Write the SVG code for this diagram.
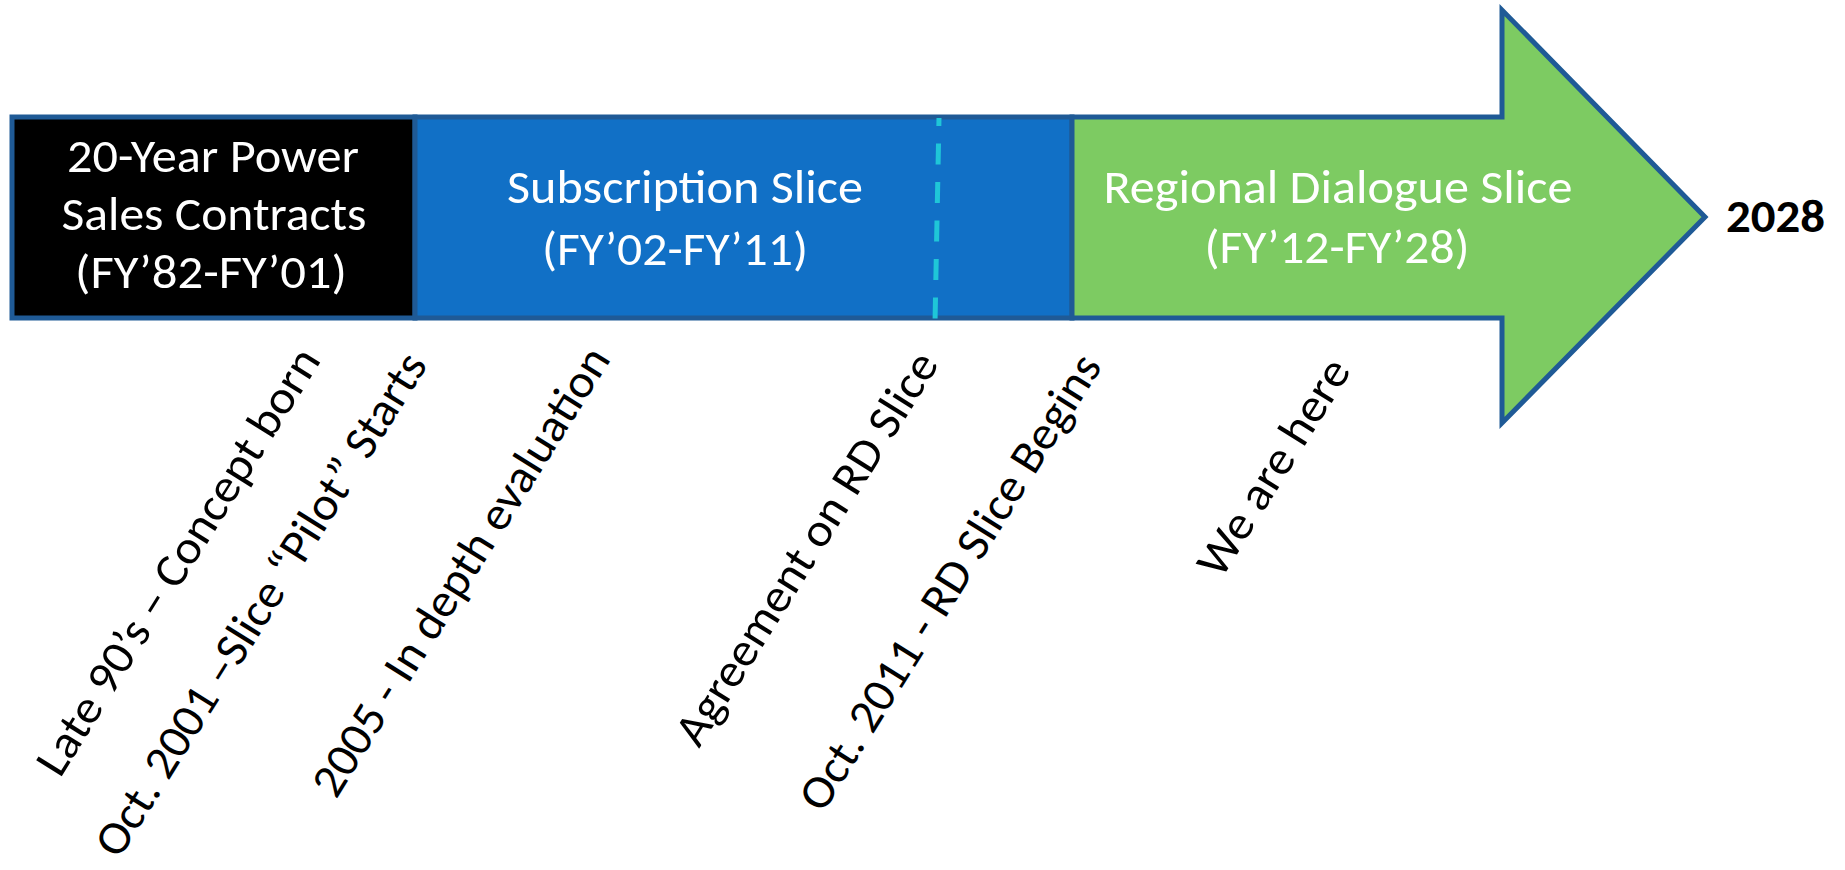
<svg xmlns="http://www.w3.org/2000/svg" width="1845" height="870" viewBox="0 0 1845 870">
  <style>
    .box { stroke: #1F5A96; stroke-width: 5; stroke-linejoin: miter; }
    .t { font-family: Carlito, Lato, "Liberation Sans", sans-serif; font-size: 47px; }
    .w { fill: #FFFFFF; text-anchor: middle; }
    .lbl { fill: #000000; }
  </style>
  <rect width="1845" height="870" fill="#FFFFFF"/>

  <g id="node-psc">
    <rect class="box" x="12" y="117" width="403" height="201" fill="#000000"/>
    <text class="t w" x="213" y="172" textLength="292" lengthAdjust="spacingAndGlyphs">20-Year Power</text>
    <text class="t w" x="214" y="230" textLength="305" lengthAdjust="spacingAndGlyphs">Sales Contracts</text>
    <text class="t w" x="211" y="288" textLength="272" lengthAdjust="spacingAndGlyphs">(FY’82-FY’01)</text>
  </g>

  <g id="node-subscription">
    <rect class="box" x="415" y="117" width="657" height="201" fill="#1170C6"/>
    <text class="t w" x="685" y="203" textLength="356" lengthAdjust="spacingAndGlyphs">Subscription Slice</text>
    <text class="t w" x="675" y="265" textLength="266" lengthAdjust="spacingAndGlyphs">(FY’02-FY’11)</text>
  </g>

  <g id="node-rd">
    <polygon class="box" points="1072,117 1502,117 1502,10 1705,217 1502,423 1502,318 1072,318" fill="#7DCB62"/>
    <text class="t w" x="1338" y="203" textLength="469" lengthAdjust="spacingAndGlyphs">Regional Dialogue Slice</text>
    <text class="t w" x="1337" y="263" textLength="265" lengthAdjust="spacingAndGlyphs">(FY’12-FY’28)</text>
  </g>

  <g id="connectors">
    <line x1="939" y1="118" x2="935" y2="323" stroke="#1FC6D8" stroke-width="5" stroke-dasharray="21 17.5" stroke-dashoffset="13"/>
  </g>

  <g id="node-2028">
    <text class="t" x="1726" y="232" font-weight="bold" textLength="99" lengthAdjust="spacingAndGlyphs">2028</text>
  </g>

  <g id="labels">
    <text id="lbl-late90s" class="t lbl" x="60" y="779" transform="rotate(-58 60 779)" textLength="494" lengthAdjust="spacingAndGlyphs">Late 90’s – Concept born</text>
    <text id="lbl-oct2001" class="t lbl" x="119" y="860" transform="rotate(-58 119 860)" textLength="584" lengthAdjust="spacingAndGlyphs">Oct. 2001 –Slice “Pilot” Starts</text>
    <text id="lbl-2005" class="t lbl" x="336" y="800" transform="rotate(-58 336 800)" textLength="520" lengthAdjust="spacingAndGlyphs">2005 - In depth evaluation</text>
    <text id="lbl-agreement" class="t lbl" x="699" y="749" transform="rotate(-58 699 749)" textLength="454" lengthAdjust="spacingAndGlyphs">Agreement on RD Slice</text>
    <text id="lbl-oct2011" class="t lbl" x="823" y="814" transform="rotate(-58 823 814)" textLength="528" lengthAdjust="spacingAndGlyphs">Oct. 2011 - RD Slice Begins</text>
    <text id="lbl-here" class="t lbl" x="1221" y="580" transform="rotate(-58 1221 580)" textLength="247" lengthAdjust="spacingAndGlyphs">We are here</text>
  </g>
</svg>
